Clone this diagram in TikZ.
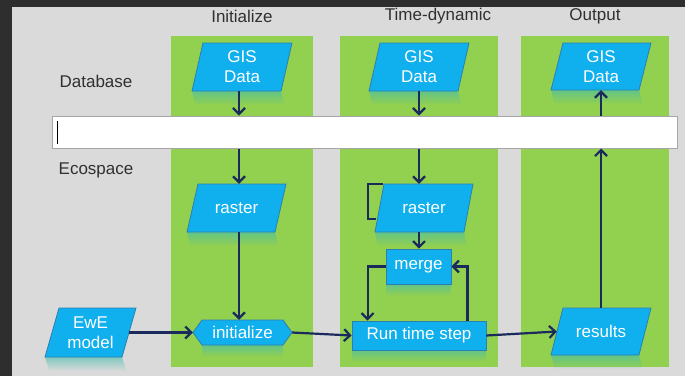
\documentclass[tikz,border=0pt]{standalone}
\usepackage{fontspec}
\setmainfont{Liberation Sans}
\usetikzlibrary{arrows.meta,fadings}
\definecolor{bg}{HTML}{DADADA}
\definecolor{frame}{HTML}{2E2E2E}
\definecolor{grn}{HTML}{92D050}
\definecolor{blu}{HTML}{10B0EE}
\definecolor{bluedge}{HTML}{2C7FAE}
\definecolor{navy}{HTML}{1B2A5C}
\definecolor{lbl}{HTML}{303030}
\tikzset{
 col/.style={fill=grn, draw=none},
 shapefill/.style={fill=blu, draw=bluedge, line width=0.8pt, line join=miter},
 boxtext/.style={inner sep=0pt, text=white, font=\fontsize{17}{20}\selectfont, align=center},
 rectbox/.style={boxtext, shapefill},
 lbltext/.style={text=lbl, font=\fontsize{17}{20}\selectfont, inner sep=0pt},
 refl/.style={fill=blu!60!grn, opacity=0.6, path fading=south, draw=none},
 conn/.style={draw=navy, line width=2.2pt, -{Straight Barb[length=6pt,width=12pt]}},
 plainline/.style={draw=navy, line width=1.8pt},
}
\newcommand\parabox[7]{%
 \path[refl] ({#2-#4/2-#6/2},{#3+#5/2}) -- ({#2+#4/2-#6/2},{#3+#5/2}) -- ({#2+#4/2-#6/2+#6*0.3},{#3+#5/2+14}) -- ({#2-#4/2-#6/2+#6*0.3},{#3+#5/2+14}) -- cycle;
 \path[shapefill] ({#2-#4/2+#6/2},{#3-#5/2}) -- ({#2+#4/2+#6/2},{#3-#5/2}) -- ({#2+#4/2-#6/2},{#3+#5/2}) -- ({#2-#4/2-#6/2},{#3+#5/2}) -- cycle;
 \node[boxtext, minimum width=#4pt, minimum height=#5pt] (#1) at (#2,#3) {#7};
}
\begin{document}
\begin{tikzpicture}[x=1pt,y=-1pt]
\useasboundingbox (0,0) rectangle (685,376);
\fill[frame] (0,0) rectangle (685,376);
\fill[bg] (12,7) rectangle (685,376);
% columns
\fill[col] (171,36) rectangle (313,367);
\fill[col] (340,36) rectangle (498,367);
\fill[col] (521,36) rectangle (669,367);
% labels
\node[lbltext] (tinit) at (242,16) {Initialize};
\node[lbltext] (ttime) at (438,16) {Time-dynamic};
\node[lbltext] (tout) at (595,16) {Output};
\node[lbltext] (ldb) at (96,81) {Database};
\node[lbltext] (leco) at (96,170) {Ecospace};
% bar
\node[draw=gray!70, fill=white, line width=1pt, minimum width=625pt, minimum height=32pt, inner sep=0pt] (bar) at (364.5,132) {};
\draw[black, line width=0.8pt] (57,121) -- (57,144);
% boxes
\parabox{gis1}{242}{67}{89}{48}{11}{GIS\\Data}
\parabox{gis2}{419}{67}{89}{48}{11}{GIS\\Data}
\parabox{gis3}{601}{66.5}{88}{47}{12}{GIS\\Data}
\parabox{r1}{236.5}{208}{88}{48}{11}{raster}
\parabox{r2}{424}{208}{89}{48}{9}{raster}
\parabox{ewe}{90.5}{332.5}{77}{49}{14}{EwE\\model}
\parabox{res}{601}{331.5}{88}{47}{12}{results}
\path[refl] (386,284) rectangle (451,296);
\node[rectbox, minimum width=65pt, minimum height=35pt] (merge) at (418.5,266.5) {merge};
\path[refl] (352,350) rectangle (486,362);
\node[rectbox, minimum width=134pt, minimum height=29pt] (rts) at (419,335.5) {Run time step};
\path[refl] (202,345) rectangle (283,357);
\path[shapefill] (193,332.5) -- (202,320) -- (283,320) -- (292,332.5) -- (283,345) -- (202,345) -- cycle;
\node[boxtext, minimum width=99pt, minimum height=25pt] (init) at (242.5,332.5) {initialize};
% connectors
\coordinate (k1) at ([xshift=-3pt]gis1.south);
\coordinate (k2) at (gis2.south);
\draw[conn] (k1) -- (k1 |- bar.north);
\draw[conn] (k1 |- bar.south) -- (k1 |- r1.north);
\draw[conn] (k1 |- r1.south) -- (k1 |- init.north);
\draw[conn] (k2) -- (k2 |- bar.north);
\draw[conn] (k2 |- bar.south) -- (k2 |- r2.north);
\draw[conn] (k2 |- r2.south) -- (k2 |- merge.north);
\draw[conn] (res.north) -- (res.north |- bar.south);
\draw[conn] (res.north |- bar.north) -- (gis3.south);
\draw[conn] (merge.west) -| ([xshift=16pt]rts.north west);
\draw[conn] ([xshift=-19pt]rts.north east) |- (merge.east);
\draw[conn] (ewe.east) -- (init.west);
\draw[conn] (init.east) -- (rts.west);
\draw[conn] (rts.east) -- (res.west);
\draw[plainline] ([xshift=4pt]r2.north west) -- ++(-15,0) -- ++(0,35) -- ++(8,0);
\end{tikzpicture}
\end{document}
